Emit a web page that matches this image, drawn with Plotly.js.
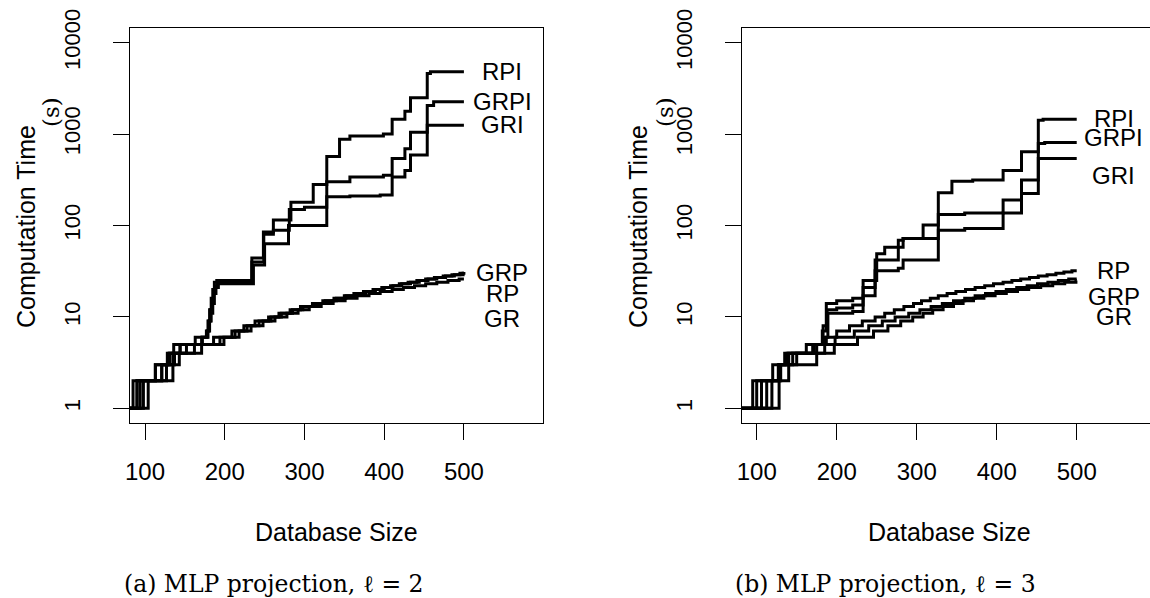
<!DOCTYPE html>
<html>
<head>
<meta charset="utf-8">
<script src="https://cdn.plot.ly/plotly-3.0.1.min.js"></script>
<style>html,body{margin:0;padding:0;background:#fff;}#chart{width:1150px;height:598px;}</style>
</head>
<body>
<div id="chart"></div>
<script>
// ---------- Data: panel (a), l = 2 (step breakpoints: database size, seconds) ----------
var a_RPI_x  = [81, 85, 113, 130, 144, 163, 177, 179, 181, 183, 185, 187, 190, 234, 248.5, 261, 283, 311, 328, 344, 357, 399, 410, 426, 433, 454, 458, 500];
var a_RPI_y  = [1, 2, 3, 4, 5, 6, 7, 9, 12, 16, 20, 24, 25, 44, 85, 115, 180, 280, 570, 880, 950, 1000, 1450, 1780, 2500, 4600, 4800, 4800];
var a_GRPI_x = [81, 90, 121, 131, 152, 171, 178, 180, 182, 184, 186, 188, 191, 234, 249, 261, 281, 300, 328, 357, 399, 410, 426, 433, 454, 462, 500];
var a_GRPI_y = [1, 2, 3, 4, 5, 6, 7, 9, 12, 15, 19, 22, 24, 40, 80, 89, 150, 158, 300, 340, 355, 540, 690, 1050, 2050, 2250, 2250];
var a_GRI_x  = [81, 104, 135, 137, 162, 172, 179, 181, 183, 185, 187, 189, 192, 236, 250, 280, 328, 357, 395, 410, 426, 433, 454, 500];
var a_GRI_y  = [1, 2, 3, 4, 5, 6, 7, 9, 11, 14, 18, 21, 23, 37, 63, 100, 206, 210, 215, 340, 400, 590, 1250, 1250];
var a_GRP_x  = [81, 90, 113, 128, 136, 186, 209, 224, 238, 255, 268, 282, 295, 310, 323, 337, 350, 362, 374, 386, 397, 408, 419, 430, 441, 452, 463, 474, 485, 495, 500];
var a_GRP_y  = [1, 2, 3, 4, 5, 6, 7, 8, 9, 10, 11, 12, 13, 14, 15, 16, 17, 18, 19, 20, 21, 22, 23, 24, 25, 26, 27, 28, 29, 30, 31];
var a_RP_x   = [81, 94, 121, 135, 144, 194, 213, 228, 243, 258, 271, 285, 298, 313, 326, 340, 352, 364, 377, 389, 400, 411, 422, 433, 444, 455, 466, 477, 488, 499, 500];
var a_RP_y   = [1, 2, 3, 4, 5, 6, 7, 8, 9, 10, 11, 12, 13, 14, 15, 16, 17, 18, 19, 20, 21, 22, 23, 24, 25, 26, 27, 28, 29, 30, 30];
var a_GR_x   = [81, 98, 127, 143, 171, 199, 218, 233, 248, 263, 278, 292, 306, 321, 336, 351, 366, 381, 395, 410, 424, 438, 452, 466, 480, 494, 500];
var a_GR_y   = [1, 2, 3, 4, 5, 6, 7, 8, 9, 10, 11, 12, 13, 14, 15, 16, 17, 18, 19, 20, 21, 22, 23, 24, 25, 26, 26];

// ---------- Data: panel (b), l = 3 ----------
var b_RPI_x  = [81, 95, 127, 138, 162, 182, 187, 200, 220, 233, 250, 260, 283, 308, 327, 344, 370, 408, 431, 452, 458, 500];
var b_RPI_y  = [1, 2, 3, 4, 5, 7, 14, 15, 16, 25, 49, 58, 72, 101, 228, 305, 315, 400, 640, 1420, 1450, 1450];
var b_GRPI_x = [81, 100, 120, 135, 175, 183, 188, 200, 220, 233, 248, 277, 283, 327, 360, 408, 431, 452, 460, 500];
var b_GRPI_y = [1, 2, 3, 4, 5, 8, 12, 12.5, 13.5, 21, 42, 69, 72, 132, 137, 190, 315, 790, 810, 810];
var b_GRI_x  = [81, 106, 128, 145, 170, 185, 189, 220, 233, 248, 277, 283, 327, 360, 408, 431, 452, 500];
var b_GRI_y  = [1, 2, 3, 4, 5, 6, 11, 11.5, 17, 32, 34, 42, 89, 93, 137, 224, 540, 540];
var b_RP_x   = [81, 112.5, 128, 140, 172, 187, 200, 216, 232, 248, 260, 272, 284, 296, 306, 317, 327, 338, 349, 361, 373, 385, 396, 408, 419, 430, 441, 452, 463, 474, 484, 494, 500];
var b_RP_y   = [1, 2, 3, 4, 5, 6, 7, 8, 9, 10, 11, 12, 13, 14, 15, 16, 17, 18, 19, 20, 21, 22, 23, 24, 25, 26, 27, 28, 29, 30, 31, 32, 32];
var b_GRP_x  = [81, 119, 130, 150, 185, 198, 222, 240, 257, 273, 290, 304, 318, 332, 346, 360, 373, 386, 399, 412, 425, 438, 451, 464, 477, 490, 500];
var b_GRP_y  = [1, 2, 3, 4, 5, 6, 7, 8, 9, 10, 11, 12, 13, 14, 15, 16, 17, 18, 19, 20, 21, 22, 23, 24, 25, 26, 26];
var b_GR_x   = [81, 128, 140, 175, 197, 226, 246, 264, 280, 295, 308, 320, 333, 346, 358, 371, 384, 398, 412, 426, 440, 455, 470, 485, 499, 500];
var b_GR_y   = [1, 2, 3, 4, 5, 6, 7, 8, 9, 10, 11, 12, 13, 14, 15, 16, 17, 18, 19, 20, 21, 22, 23, 24, 25, 25];

// ---------- Labels ----------
var a_labelX = 548;
var a_labelNames = ["RPI", "GRPI", "GRI", "GRP", "RP", "GR"];
var a_labelY = [4775, 2244, 1280, 31, 18.2, 9.7];
var b_labelX = 546;
var b_labelNames = ["RPI", "GRPI", "GRI", "RP", "GRP", "GR"];
var b_labelY = [1477, 916, 355, 32.5, 16.6, 10];

var xTickVals = [100, 200, 300, 400, 500];
var xTickText = ["100", "200", "300", "400", "500"];
var yTickVals = [1, 10, 100, 1000, 10000];
var yTickText = ["1", "10", "100", "1000", "10000"];

var xTitle = "Database Size";
var yTitle = "Computation Time";
var yUnit = "(s)";
var captionA = "(a) MLP projection, \u2113 = 2";
var captionB = "(b) MLP projection, \u2113 = 3";

// ---------- Build ----------
function tr(x, y, xa, ya, name) {
  return {x: x, y: y, xaxis: xa, yaxis: ya, name: name, type: "scatter", mode: "lines",
          line: {shape: "hv", width: 3, color: "#000"}, hoverinfo: "skip", cliponaxis: true};
}
var data = [
  tr(a_RPI_x, a_RPI_y, "x", "y", "RPI"),
  tr(a_GRPI_x, a_GRPI_y, "x", "y", "GRPI"),
  tr(a_GRI_x, a_GRI_y, "x", "y", "GRI"),
  tr(a_GRP_x, a_GRP_y, "x", "y", "GRP"),
  tr(a_RP_x, a_RP_y, "x", "y", "RP"),
  tr(a_GR_x, a_GR_y, "x", "y", "GR"),
  tr(b_RPI_x, b_RPI_y, "x2", "y2", "RPI"),
  tr(b_GRPI_x, b_GRPI_y, "x2", "y2", "GRPI"),
  tr(b_GRI_x, b_GRI_y, "x2", "y2", "GRI"),
  tr(b_RP_x, b_RP_y, "x2", "y2", "RP"),
  tr(b_GRP_x, b_GRP_y, "x2", "y2", "GRP"),
  tr(b_GR_x, b_GR_y, "x2", "y2", "GR")
];

var sans = "Liberation Sans, Arial, Helvetica, sans-serif";
var serif = "DejaVu Serif, Liberation Serif, serif";

function xax(domain, range, anchor, mirror) {
  return {domain: domain, range: range, anchor: anchor, tickmode: "array", tickvals: xTickVals, ticktext: xTickText,
          ticks: "outside", ticklen: 16, tickwidth: 1, tickcolor: "#000", showline: true, linecolor: "#000", linewidth: 1,
          mirror: mirror, showgrid: false, zeroline: false, tickfont: {family: sans, size: 24, color: "#000"},
          ticklabelstandoff: 11, fixedrange: true};
}
function yax(anchor, mirror) {
  return {type: "log", range: [-0.16, 4.16], anchor: anchor, domain: [0, 1], tickmode: "array", tickvals: yTickVals, ticktext: yTickText,
          tickangle: -90, ticks: "outside", ticklen: 16, tickwidth: 1, tickcolor: "#000", showline: true, linecolor: "#000",
          linewidth: 1, mirror: mirror, showgrid: false, zeroline: false, tickfont: {family: sans, size: 22, color: "#000"},
          ticklabelstandoff: 24, fixedrange: true};
}

var annotations = [];
a_labelNames.forEach(function (n, i) {
  annotations.push({xref: "x", yref: "y", x: a_labelX, y: Math.log10(a_labelY[i]), text: n, showarrow: false,
                    xanchor: "center", yanchor: "middle", font: {family: sans, size: 24, color: "#000"}});
});
b_labelNames.forEach(function (n, i) {
  annotations.push({xref: "x2", yref: "y2", x: b_labelX, y: Math.log10(b_labelY[i]), text: n, showarrow: false,
                    xanchor: "center", yanchor: "middle", font: {family: sans, size: 24, color: "#000"}});
});
function paperY(py) { return (423 - py) / 395; }
function paperX(px) { return px / 1150; }
[[26, 638], [51, 665]].forEach(function (pair, k) {
  pair.forEach(function (px) {
    annotations.push({xref: "paper", yref: "paper", x: paperX(px), y: paperY(k === 0 ? 227 : 112),
                      text: k === 0 ? yTitle : yUnit, textangle: -90, showarrow: false, xanchor: "center", yanchor: "middle",
                      font: {family: k === 0 ? sans : serif, size: k === 0 ? 25 : 23, color: "#000"}});
  });
});
[[336, captionA], [949, captionB]].forEach(function (p, i) {
  annotations.push({xref: "paper", yref: "paper", x: paperX(p[0]), y: paperY(532), text: xTitle, showarrow: false,
                    xanchor: "center", yanchor: "middle", font: {family: sans, size: 25, color: "#000"}});
  annotations.push({xref: "paper", yref: "paper", x: paperX(i === 0 ? 274 : 885), y: paperY(584), text: p[1], showarrow: false,
                    xanchor: "center", yanchor: "middle", font: {family: serif, size: 23.5, color: "#000"}});
});

var layout = {
  width: 1150, height: 598,
  margin: {l: 0, r: 0, t: 28, b: 175, pad: 0},
  paper_bgcolor: "#fff", plot_bgcolor: "#fff",
  showlegend: false,
  font: {family: sans, color: "#000"},
  xaxis: xax([129.7 / 1150, 543 / 1150], [80.8, 599.2], "y", true),
  yaxis: yax("x", true),
  xaxis2: xax([741.7 / 1150, 1], [81.25, 591.6], "y2", true),
  yaxis2: yax("x2", false),
  annotations: annotations
};

Plotly.newPlot("chart", data, layout, {staticPlot: true, displayModeBar: false});
</script>
</body>
</html>
